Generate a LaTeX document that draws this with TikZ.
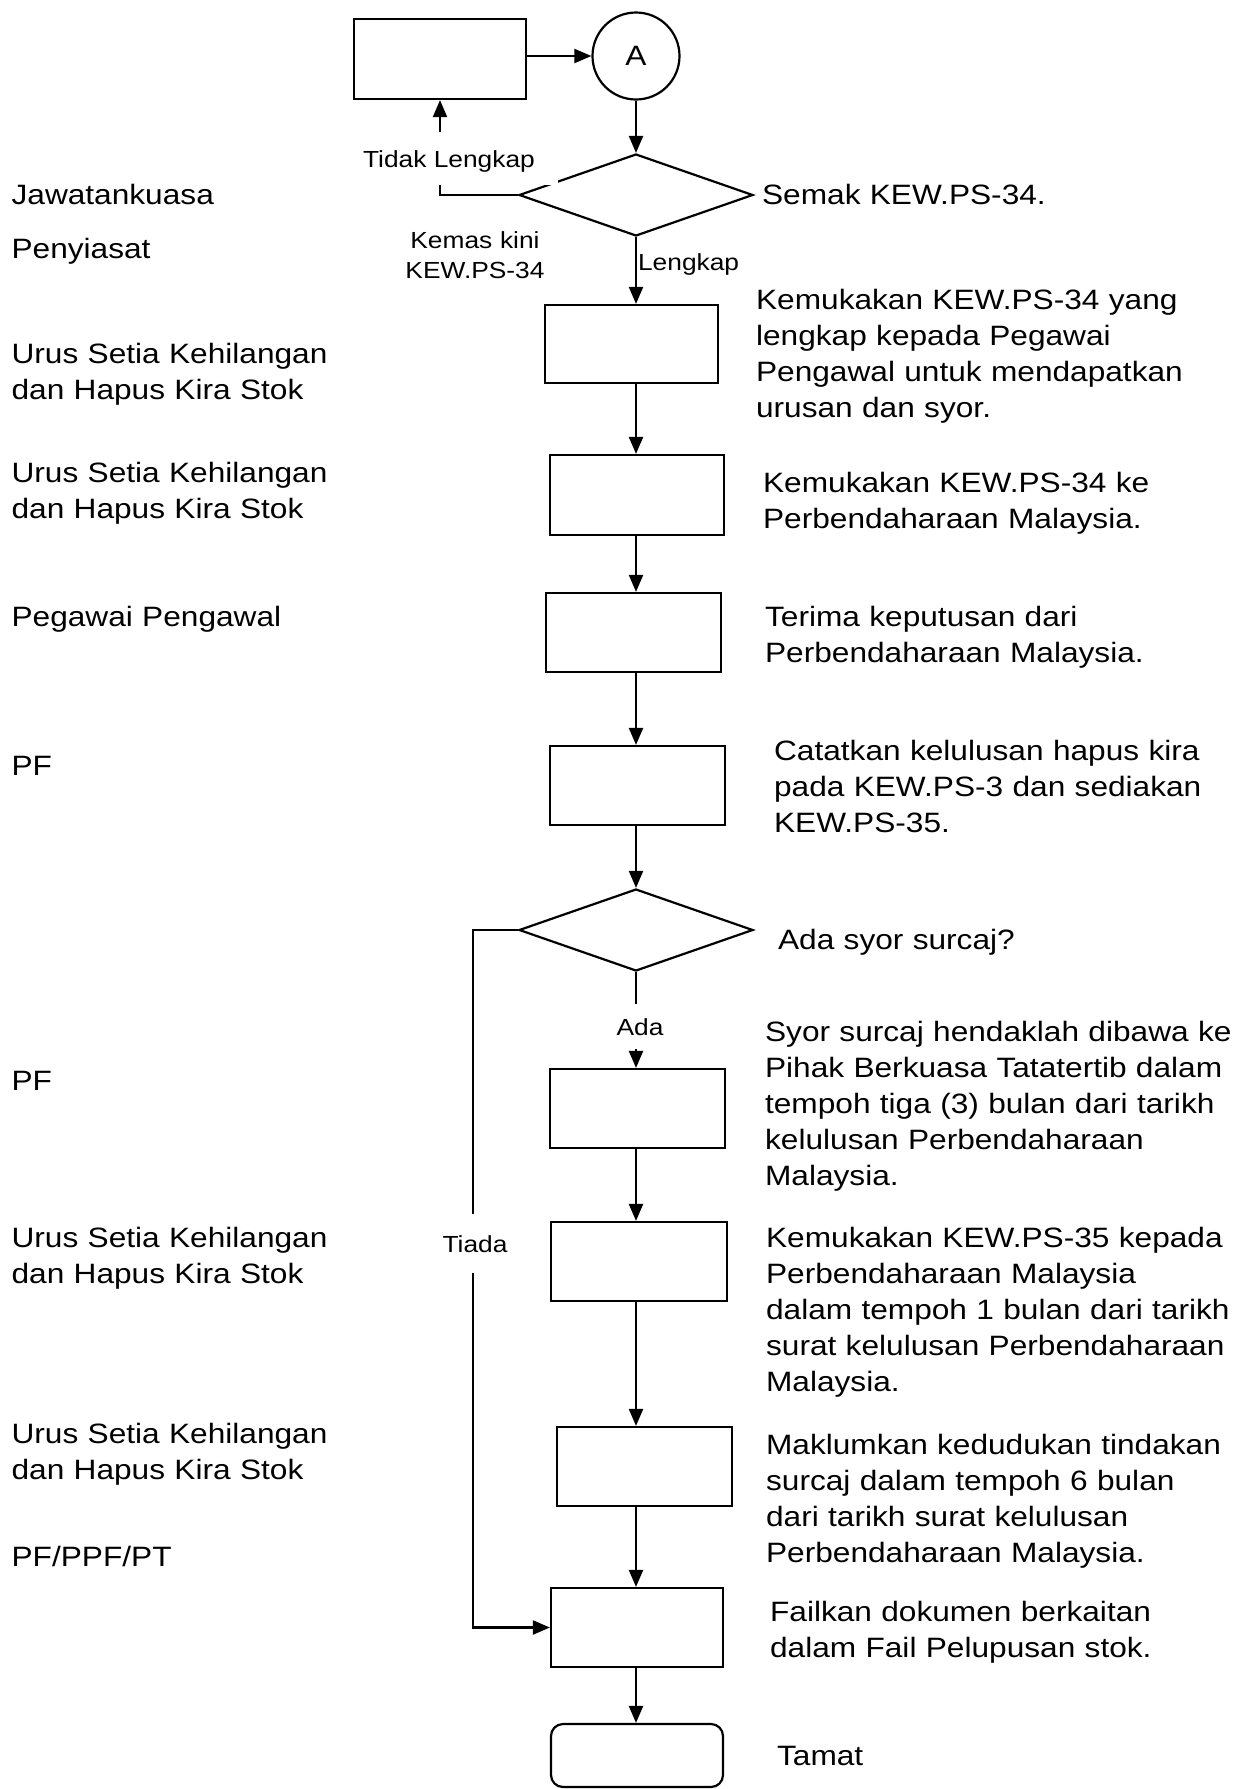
\documentclass[tikz,border=0pt]{standalone}
\usepackage{fontspec}
\newfontfamily\labelfont[FakeStretch=1.13]{Liberation Sans}
\usetikzlibrary{shapes.geometric,arrows.meta}
\begin{document}
\begin{tikzpicture}[x=1pt,y=-1pt,
  line width=2.2pt,
  proc/.style={draw, rectangle, inner sep=0pt, minimum width=175pt, minimum height=79pt},
  dec/.style={draw, diamond, inner sep=0pt, minimum width=234pt, minimum height=82pt},
  conn/.style={-{Triangle[length=17pt,width=14pt]}},
  big/.style={font=\labelfont\fontsize{28}{36.2}\selectfont},
  small/.style={font=\labelfont\fontsize{23.3}{30}\selectfont},
  role/.style={big, anchor=base west, inner sep=0pt, text width=330pt, align=left},
  note/.style={big, anchor=base west, inner sep=0pt, text width=490pt, align=left},
  tag/.style={small, fill=white, inner sep=0pt, text height=17pt, text depth=0pt},
]
\useasboundingbox (0,0) rectangle (1252,1789);

% flow shapes
\node[proc, minimum width=172pt, minimum height=80pt] (r0) at (440,59) {};
\node[draw, circle, minimum size=87pt, inner sep=0pt, big] (a) at (636,56) {A};
\node[dec] (d1) at (636,195) {};
\node[proc, minimum width=173pt, minimum height=78pt] (r2) at (631.5,344) {};
\node[proc, minimum width=174pt, minimum height=80pt] (r3) at (637,495) {};
\node[proc] (r4) at (633.5,632.5) {};
\node[proc] (r5) at (637.5,785.5) {};
\node[dec] (d2) at (636,930) {};
\node[proc] (r6) at (637.5,1108.5) {};
\node[proc, minimum width=176pt] (r7) at (639,1261.5) {};
\node[proc] (r8) at (644.5,1466.5) {};
\node[proc, minimum width=172pt] (r9) at (637,1627.5) {};
\node[draw, rectangle, rounded corners=12pt, inner sep=0pt, minimum width=172pt, minimum height=63pt] (t) at (637,1755.5) {};

% connectors
\draw[conn] (r0.east |- a) -- (a.west);
\draw[conn] (a.south) -- (d1.north);
\draw[conn] (d1.west) -| (r0.south);
\node[tag, minimum width=218pt, minimum height=53pt] (tl) at (449,158.5) {Tidak Lengkap};
\draw[conn] (d1.south) -- (d1.south |- r2.north);
\node[small, anchor=base west, inner sep=0pt] (lk) at (637,270) {Lengkap};
\node[small, anchor=base, inner sep=0pt, text width=160pt, align=center] (kk) at (475,248) {Kemas kini\\KEW.PS-34};

\draw[conn] (r2.south -| a) -- (r3.north -| a);
\draw[conn] (r3.south -| a) -- (r4.north -| a);
\draw[conn] (r4.south -| a) -- (r5.north -| a);
\draw[conn] (r5.south -| a) -- (d2.north);
\draw[conn] (d2.south) -- (d2.south |- r6.north);
\node[tag, minimum height=45pt] (ada) at (640,1026.5) {Ada};
\draw[conn] (r6.south -| a) -- (r7.north -| a);
\draw[conn] (r7.south -| a) -- (r8.north -| a);
\draw[conn] (r8.south -| a) -- (r9.north -| a);
\draw[conn] (r9.south -| a) -- (t.north -| a);
\coordinate (tb) at (473,1627.5);
\draw[conn] (d2.west) -| (tb) -- (r9.west);
\node[tag, minimum height=59pt] (td) at (475,1243.5) {Tiada};

% responsible parties
\node[role] (p1) at (10.5,204) {Jawatankuasa};
\node[role] (p2) at (10.5,258) {Penyiasat};
\node[role] (p3) at (10.5,363) {Urus Setia Kehilangan\\dan Hapus Kira Stok};
\node[role] (p4) at (10.5,482) {Urus Setia Kehilangan\\dan Hapus Kira Stok};
\node[role] (p5) at (10.5,626) {Pegawai Pengawal};
\node[role] (p6) at (10.5,775) {PF};
\node[role] (p7) at (10.5,1090) {PF};
\node[role] (p8) at (10.5,1247) {Urus Setia Kehilangan\\dan Hapus Kira Stok};
\node[role] (p9) at (10.5,1443) {Urus Setia Kehilangan\\dan Hapus Kira Stok};
\node[role] (p10) at (10.5,1566) {PF/PPF/PT};

% step descriptions
\node[note] (n1) at (761,204) {Semak KEW.PS-34.};
\node[note] (n2) at (755,309) {Kemukakan KEW.PS-34 yang\\lengkap kepada Pegawai\\Pengawal untuk mendapatkan\\urusan dan syor.};
\node[note] (n3) at (762,492) {Kemukakan KEW.PS-34 ke\\Perbendaharaan Malaysia.};
\node[note] (n4) at (764,626) {Terima keputusan dari\\Perbendaharaan Malaysia.};
\node[note] (n5) at (773,760) {Catatkan kelulusan hapus kira\\pada KEW.PS-3 dan sediakan\\KEW.PS-35.};
\node[note] (n6) at (777,949) {Ada syor surcaj?};
\node[note] (n7) at (764,1041) {Syor surcaj hendaklah dibawa ke\\Pihak Berkuasa Tatatertib dalam\\tempoh tiga (3) bulan dari tarikh\\kelulusan Perbendaharaan\\Malaysia.};
\node[note] (n8) at (765,1247) {Kemukakan KEW.PS-35 kepada\\Perbendaharaan Malaysia\\dalam tempoh 1 bulan dari tarikh\\surat kelulusan Perbendaharaan\\Malaysia.};
\node[note] (n9) at (765,1454) {Maklumkan kedudukan tindakan\\surcaj dalam tempoh 6 bulan\\dari tarikh surat kelulusan\\Perbendaharaan Malaysia.};
\node[note] (n10) at (769,1621) {Failkan dokumen berkaitan\\dalam Fail Pelupusan stok.};
\node[note] (n11) at (776,1765) {Tamat};
\end{tikzpicture}
\end{document}
